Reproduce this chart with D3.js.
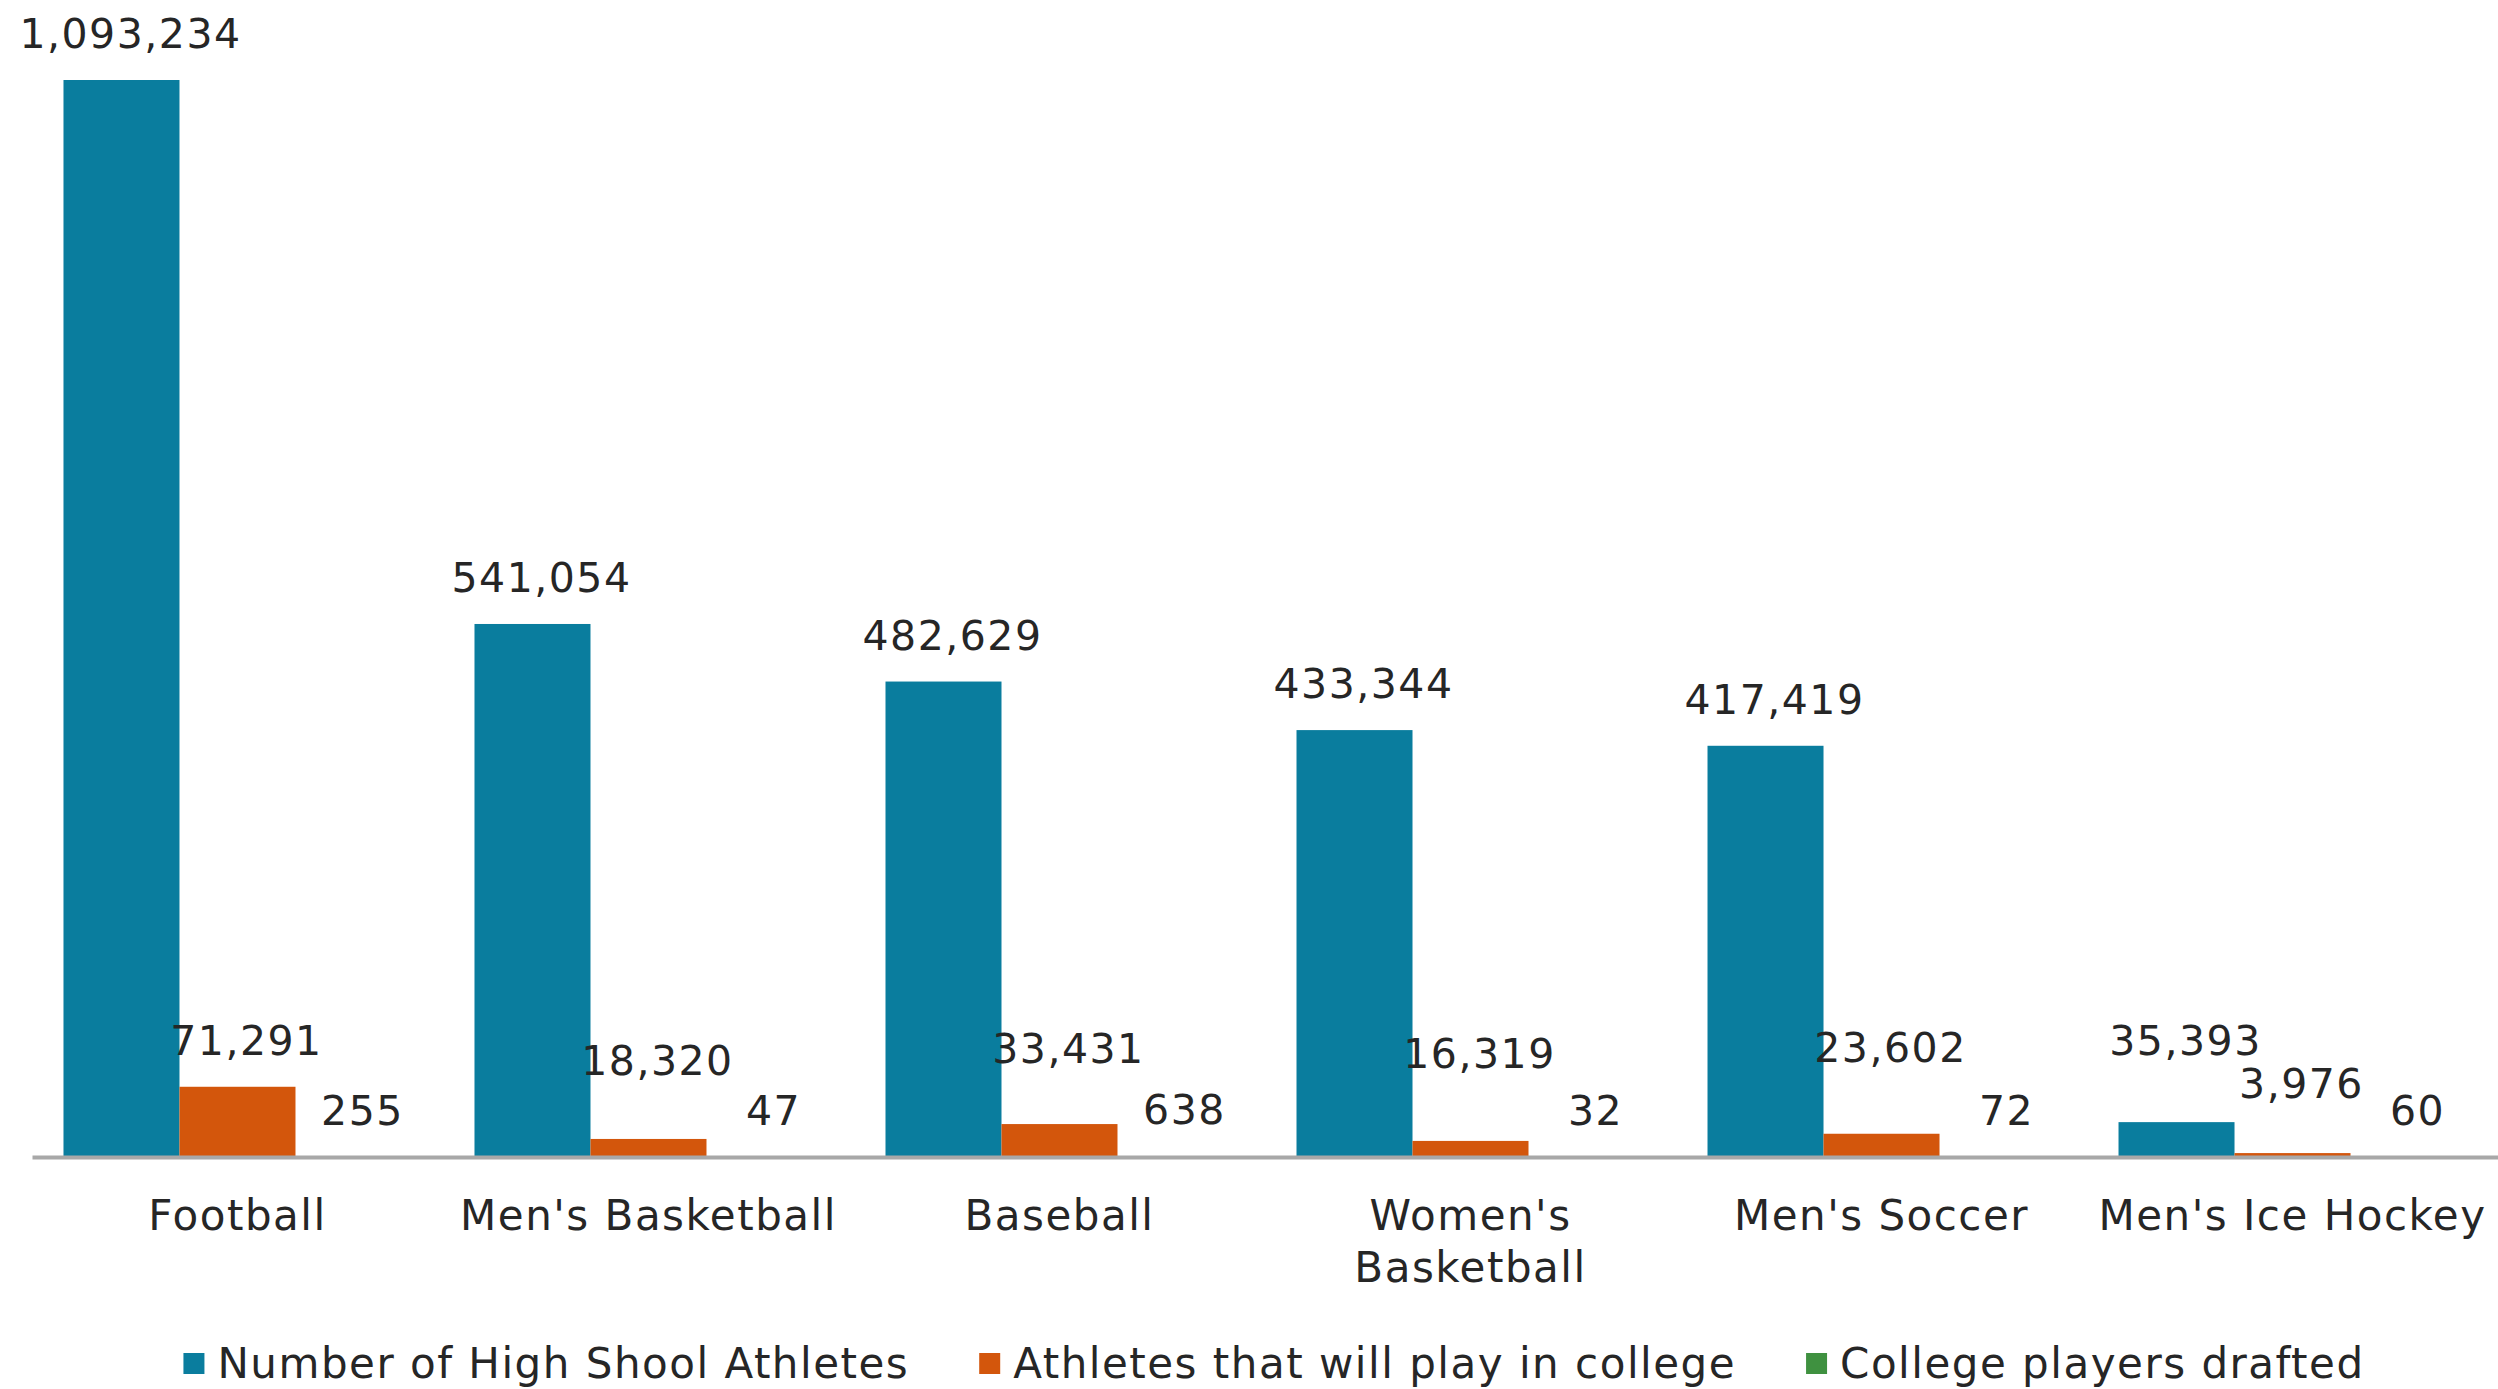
<!DOCTYPE html>
<html>
<head>
<meta charset="utf-8">
<script src="https://cdn.jsdelivr.net/npm/d3@7"></script>
<style>
  html, body { margin: 0; padding: 0; background: #ffffff; }
  svg { display: block; font-family: "DejaVu Sans", Verdana, sans-serif; letter-spacing: 1.5px; }
</style>
</head>
<body>
<svg id="chart" width="2498" height="1389"></svg>
<script>
// Sports participation funnel: high school -> college -> drafted
const categories = ["Football", "Men's Basketball", "Baseball", "Women's Basketball", "Men's Soccer", "Men's Ice Hockey"];
const tickLabels = [["Football"], ["Men's Basketball"], ["Baseball"], ["Women's", "Basketball"], ["Men's Soccer"], ["Men's Ice Hockey"]];
const seriesNames = ["Number of High Shool Athletes", "Athletes that will play in college", "College players drafted"];
const highSchoolAthletes = [1093234, 541054, 482629, 433344, 417419, 35393];
const collegeAthletes = [71291, 18320, 33431, 16319, 23602, 3976];
const draftedPlayers = [255, 47, 638, 32, 72, 60];

// Layout and style settings
const W = 2498, H = 1389;
const colors = ["#0a7d9e", "#d3560c", "#3f9140"];
const baseY = 1157, topY = 80;
const labelGap = 32;
// extra lift (px) for value labels that are moved up to keep the low labels readable
const labelLift = [
  [0, 0, 0, 0, 0, 35],
  [0, 32, 29, 41, 40, 23],
  [0, 0, 0, 0, 0, 0]
];

const seriesValues = [highSchoolAthletes, collegeAthletes, draftedPlayers];
const rows = categories.map((c, i) => ({
  category: c,
  values: seriesValues.map((vals, s) => ({ series: s, value: vals[i], index: i }))
}));

const svg = d3.select("#chart");

const x0 = d3.scaleBand()
  .domain(categories)
  .range([32, W])
  .paddingInner(0.1533)
  .paddingOuter(0.0766);

const x1 = d3.scaleBand()
  .domain(d3.range(seriesNames.length))
  .range([0, x0.bandwidth()]);

const y = d3.scaleLinear()
  .domain([0, d3.max(highSchoolAthletes)])
  .range([baseY, topY]);

const fmt = d3.format(",");

// Bars
const groups = svg.append("g")
  .selectAll("g")
  .data(rows)
  .join("g")
  .attr("transform", d => `translate(${x0(d.category)},0)`);

groups.selectAll("rect")
  .data(d => d.values)
  .join("rect")
  .attr("x", d => x1(d.series))
  .attr("width", x1.bandwidth())
  .attr("y", d => y(d.value))
  .attr("height", d => baseY - y(d.value))
  .attr("fill", d => colors[d.series]);

// Category axis
const axis = svg.append("g")
  .attr("transform", `translate(0,${baseY})`)
  .call(d3.axisBottom(x0).tickSize(0).tickSizeOuter(0));

axis.select(".domain")
  .attr("stroke", "#a8a8a8")
  .attr("stroke-width", 4);

axis.selectAll(".tick text")
  .attr("font-size", 42)
  .attr("font-family", "DejaVu Sans, Verdana, sans-serif")
  .attr("fill", "#262626")
  .attr("y", 0)
  .attr("dy", 0)
  .text(null)
  .each(function (d) {
    const lines = tickLabels[categories.indexOf(d)];
    d3.select(this).selectAll("tspan")
      .data(lines)
      .join("tspan")
      .attr("x", 0)
      .attr("y", (l, k) => 73 + k * 52)
      .text(l => l);
  });

// Value labels
groups.selectAll("text.value")
  .data(d => d.values)
  .join("text")
  .attr("class", "value")
  .attr("x", d => x1(d.series) + x1.bandwidth() / 2 + 9)
  .attr("y", d => y(d.value) - labelGap - labelLift[d.series][d.index])
  .attr("text-anchor", "middle")
  .attr("font-size", 41)
  .attr("fill", "#262626")
  .text(d => fmt(d.value));

// Legend
const legend = svg.append("g").attr("transform", "translate(0,1378)");
const items = legend.selectAll("g")
  .data(seriesNames)
  .join("g");

items.append("rect")
  .attr("width", 21)
  .attr("height", 21)
  .attr("y", -25)
  .attr("fill", (d, i) => colors[i]);

items.append("text")
  .attr("x", 34)
  .attr("font-size", 42)
  .attr("fill", "#262626")
  .text(d => d);

const itemGap = 70;
const widths = [];
items.each(function () {
  widths.push(this.querySelector("text").getComputedTextLength() + 34);
});
const total = d3.sum(widths) + itemGap * (widths.length - 1);
let cursor = 1274 - total / 2;
items.attr("transform", (d, i) => {
  const t = `translate(${cursor},0)`;
  cursor += widths[i] + itemGap;
  return t;
});
</script>
</body>
</html>
